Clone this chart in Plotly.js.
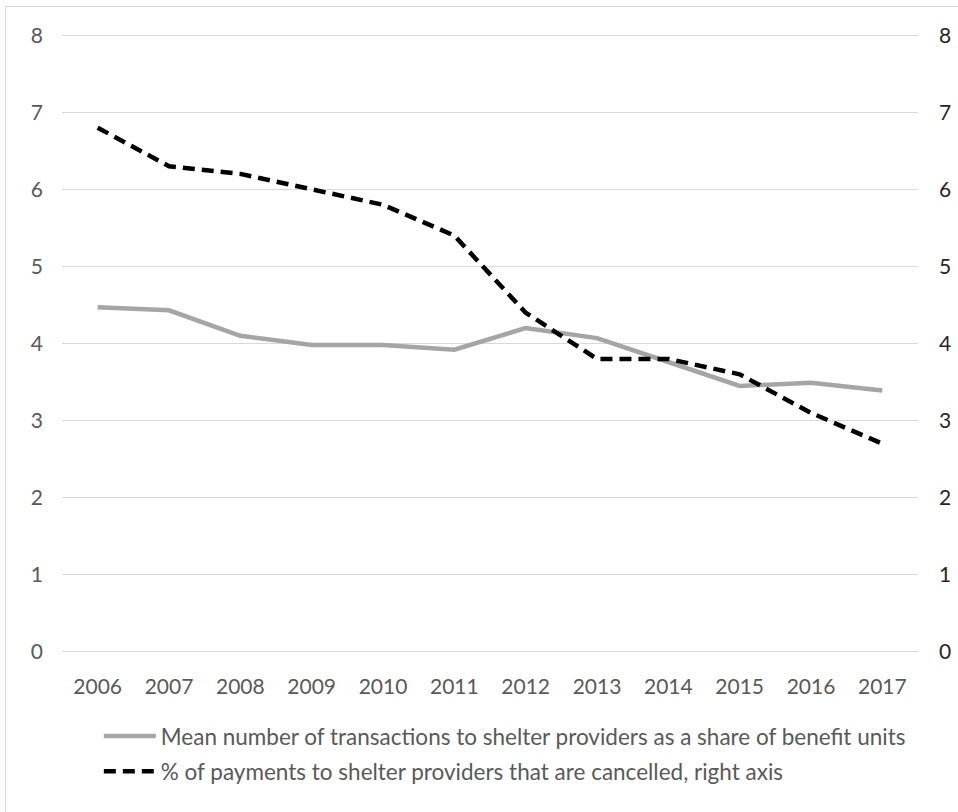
<!DOCTYPE html>
<html>
<head>
<meta charset="utf-8">
<script src="https://cdn.plot.ly/plotly-3.0.1.min.js"></script>
<style>
html,body{margin:0;padding:0;background:#fff;overflow:hidden;}
#wrap{position:relative;width:958px;height:812px;}
#chart{width:958px;height:812px;}
#frame{position:absolute;left:5px;top:6px;width:1000px;height:900px;border:1px solid #D9D9D9;pointer-events:none;}
</style>
</head>
<body>
<div id="wrap"><div id="chart"></div><div id="frame"></div></div>
<script>
var years = ["2006","2007","2008","2009","2010","2011","2012","2013","2014","2015","2016","2017"];
var meanTransactions = [4.47, 4.43, 4.10, 3.98, 3.98, 3.92, 4.20, 4.07, 3.76, 3.45, 3.49, 3.39];
var cancelledShare = [6.8, 6.3, 6.2, 6.0, 5.8, 5.4, 4.4, 3.8, 3.8, 3.6, 3.1, 2.7];
var leftTicks = [0,1,2,3,4,5,6,7,8];
var name1 = "Mean number of transactions to shelter providers as a share of benefit units";
var name2 = "% of payments to shelter providers that are cancelled, right axis";

var fontFam = "Lato, 'Open Sans', sans-serif";
var fs = 21;
var traces = [
  {x: years, y: meanTransactions, type: "scatter", mode: "lines", name: name1, legendgroup: "g1",
   line: {color: "#A5A5A5", width: 4.5}, yaxis: "y", hoverinfo: "skip"},
  {x: years, y: cancelledShare, type: "scatter", mode: "lines", name: name2, legendgroup: "g2",
   line: {color: "#000000", width: 4.5, dash: "12px,7px"}, yaxis: "y2", hoverinfo: "skip"}
];
var layout = {
  width: 958, height: 812,
  margin: {l: 62, r: 40, t: 34, b: 159},
  paper_bgcolor: "#fff", plot_bgcolor: "#fff",
  font: {family: fontFam, size: fs, color: "#595959"},
  showlegend: true,
  legend: {orientation: "v", x: 0.043, xanchor: "left", y: -0.1, yanchor: "top",
           font: {family: fontFam, size: 22.5, color: "#595959"}, itemwidth: 52, tracegroupgap: 3},
  xaxis: {type: "category", range: [-0.5, 11.5], showgrid: false, zeroline: false,
          showline: false, ticks: "", ticklabelstandoff: 19,
          tickfont: {family: fontFam, size: fs, color: "#595959"}},
  yaxis: {range: [-0.015, 8.015], tickvals: leftTicks, showgrid: true, gridcolor: "#D9D9D9", gridwidth: 1.3,
          zeroline: true, zerolinecolor: "#D9D9D9", zerolinewidth: 1.3, showline: false, ticks: "", ticklabelstandoff: 18,
          tickfont: {family: fontFam, size: fs, color: "#595959"}},
  yaxis2: {range: [-0.015, 8.015], tickvals: leftTicks, overlaying: "y", side: "right", showgrid: false,
           zeroline: false, showline: false, ticks: "", ticklabelstandoff: 20,
           tickfont: {family: fontFam, size: fs, color: "#262626"}}
};
Plotly.newPlot("chart", traces, layout, {staticPlot: true, displayModeBar: false});
</script>
</body>
</html>
